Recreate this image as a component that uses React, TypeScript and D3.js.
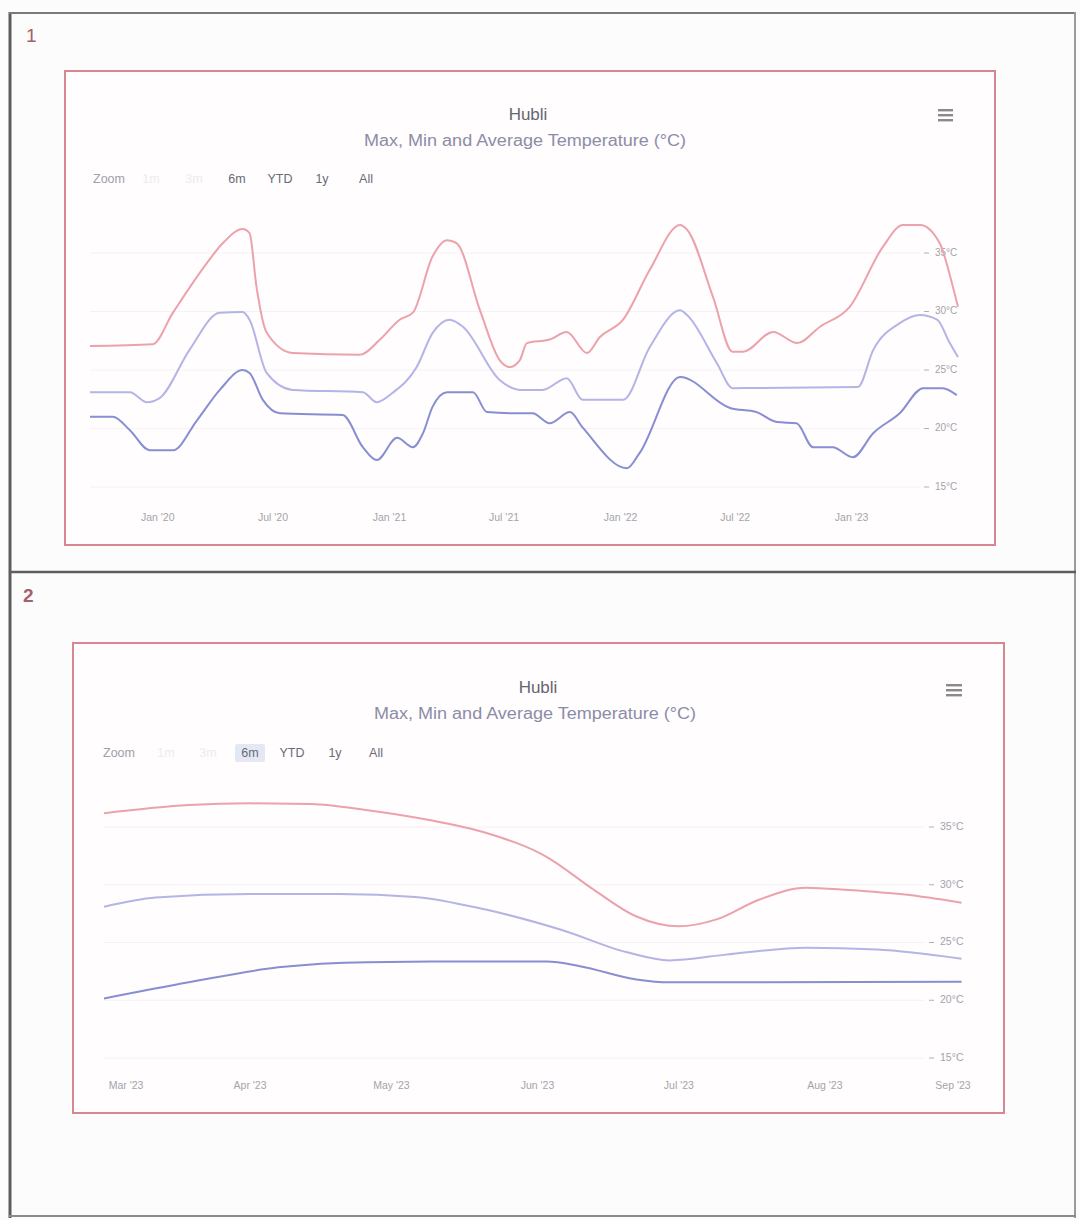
import React from "react";
import * as d3 from "d3";

type Pt = [string, number];

// ---------- Chart 1 ("All" range) ----------
const allMax: Pt[] = [
  ["2019-09-16", 27.05], ["2019-12-24", 27.2], ["2020-01-25", 29.9], ["2020-03-18", 34.1],
  ["2020-04-13", 35.85], ["2020-05-14", 37.05], ["2020-05-25", 36.7], ["2020-06-05", 32.1],
  ["2020-06-21", 28.2], ["2020-08-01", 26.45], ["2020-11-15", 26.3], ["2020-12-17", 27.6],
  ["2021-01-17", 29.3], ["2021-02-07", 29.9], ["2021-03-10", 34.7], ["2021-04-02", 36.1],
  ["2021-04-17", 35.85], ["2021-05-24", 30.1], ["2021-06-24", 25.85], ["2021-07-10", 25.25],
  ["2021-07-26", 25.85], ["2021-08-06", 27.3], ["2021-09-11", 27.6], ["2021-10-08", 28.25],
  ["2021-11-09", 26.45], ["2021-11-29", 27.8], ["2022-01-05", 29.3], ["2022-02-16", 33.55],
  ["2022-04-05", 37.4], ["2022-04-16", 37.0], ["2022-05-27", 31.25], ["2022-06-27", 26.55],
  ["2022-07-13", 26.55], ["2022-08-30", 28.25], ["2022-10-07", 27.3], ["2022-11-12", 28.7],
  ["2022-12-29", 30.4], ["2023-02-19", 35.5], ["2023-03-23", 37.4], ["2023-04-19", 37.4],
  ["2023-05-20", 35.85], ["2023-06-10", 32.1], ["2023-06-18", 30.4],
];

const allAvg: Pt[] = [
  ["2019-09-16", 23.1], ["2019-11-18", 23.1], ["2019-12-15", 22.25], ["2020-01-04", 22.6],
  ["2020-02-20", 26.7], ["2020-04-08", 29.9], ["2020-05-14", 29.95], ["2020-05-25", 29.3],
  ["2020-06-21", 24.75], ["2020-08-01", 23.3], ["2020-11-20", 23.1], ["2020-12-12", 22.25],
  ["2021-01-06", 23.05], ["2021-02-13", 25.25], ["2021-03-10", 28.15], ["2021-04-06", 29.3],
  ["2021-04-27", 28.7], ["2021-06-24", 24.15], ["2021-07-26", 23.3], ["2021-08-31", 23.3],
  ["2021-10-08", 24.3], ["2021-11-02", 22.45], ["2022-01-05", 22.45], ["2022-02-16", 26.95],
  ["2022-04-05", 30.1], ["2022-04-16", 29.7], ["2022-06-02", 25.6], ["2022-06-27", 23.45],
  ["2023-01-11", 23.55], ["2023-02-04", 26.7], ["2023-03-18", 29.0], ["2023-04-19", 29.7],
  ["2023-05-16", 29.3], ["2023-06-05", 27.3], ["2023-06-18", 26.1],
];

const allMin: Pt[] = [
  ["2019-09-16", 21.0], ["2019-10-22", 21.0], ["2019-11-18", 19.85], ["2019-12-19", 18.15],
  ["2020-01-25", 18.15], ["2020-03-03", 20.7], ["2020-04-08", 23.3], ["2020-05-14", 25.0],
  ["2020-05-25", 24.75], ["2020-06-15", 22.45], ["2020-07-12", 21.3], ["2020-10-19", 21.15],
  ["2020-11-20", 18.4], ["2020-12-12", 17.3], ["2021-01-13", 19.2], ["2021-02-07", 18.4],
  ["2021-02-23", 19.6], ["2021-03-10", 21.85], ["2021-04-02", 23.1], ["2021-05-13", 23.1],
  ["2021-06-04", 21.4], ["2021-07-26", 21.3], ["2021-08-15", 21.3], ["2021-09-11", 20.45],
  ["2021-10-13", 21.4], ["2021-11-02", 20.1], ["2022-01-11", 16.6], ["2022-01-31", 17.9],
  ["2022-04-05", 24.4], ["2022-06-23", 21.75], ["2022-08-04", 21.4], ["2022-09-05", 20.55],
  ["2022-10-06", 20.45], ["2022-11-01", 18.4], ["2022-12-02", 18.4], ["2023-01-03", 17.55],
  ["2023-02-04", 19.6], ["2023-03-18", 21.3], ["2023-04-24", 23.45], ["2023-05-25", 23.45],
  ["2023-06-16", 22.85],
];

const allTicks = ["2020-01-01", "2020-07-01", "2021-01-01", "2021-07-01", "2022-01-01", "2022-07-01", "2023-01-01"];
const allTickLabels = ["Jan '20", "Jul '20", "Jan '21", "Jul '21", "Jan '22", "Jul '22", "Jan '23"];

// ---------- Chart 2 ("6m" range) ----------
const sixMax: Pt[] = [
  ["2023-03-01", 36.2], ["2023-03-19", 36.9], ["2023-04-01", 37.05], ["2023-04-14", 37.0],
  ["2023-04-26", 36.45], ["2023-05-09", 35.6], ["2023-05-21", 34.5], ["2023-06-03", 32.4],
  ["2023-06-13", 29.55], ["2023-06-22", 27.25], ["2023-07-01", 26.4], ["2023-07-09", 27.0],
  ["2023-07-18", 28.7], ["2023-07-28", 29.75], ["2023-08-06", 29.55], ["2023-08-18", 29.15],
  ["2023-08-30", 28.45],
];

const sixAvg: Pt[] = [
  ["2023-03-01", 28.1], ["2023-03-12", 28.9], ["2023-04-01", 29.2], ["2023-04-20", 29.2],
  ["2023-05-06", 28.95], ["2023-05-21", 27.85], ["2023-06-06", 26.1], ["2023-06-20", 24.15],
  ["2023-06-29", 23.45], ["2023-07-11", 23.95], ["2023-07-28", 24.55], ["2023-08-12", 24.4],
  ["2023-08-30", 23.6],
];

const sixMin: Pt[] = [
  ["2023-03-01", 20.15], ["2023-03-19", 21.55], ["2023-04-07", 22.85], ["2023-04-26", 23.3],
  ["2023-05-15", 23.35], ["2023-06-03", 23.35], ["2023-06-10", 22.95], ["2023-06-22", 21.8],
  ["2023-06-29", 21.55], ["2023-08-30", 21.6],
];

const sixTicks = ["2023-03-01", "2023-04-01", "2023-05-01", "2023-06-01", "2023-07-01", "2023-08-01", "2023-09-01"];
const sixTickLabels = ["Mar '23", "Apr '23", "May '23", "Jun '23", "Jul '23", "Aug '23", "Sep '23"];

const yTicks = [35, 30, 25, 20, 15];
const rangeButtons = ["1m", "3m", "6m", "YTD", "1y", "All"];
const chartTitle = "Hubli";
const chartSubtitle = "Max, Min and Average Temperature (°C)";

const COLORS = { max: "#eca2aa", avg: "#b4b4e6", min: "#878ed2" };
const FONT = "'Liberation Sans', Arial, sans-serif";
const parse = d3.timeParse("%Y-%m-%d");

interface ChartProps {
  box: { x: number; y: number; w: number; h: number };
  xDomain: [string, string];
  xRange: [number, number];
  yRange: [number, number];
  ticks: string[];
  tickLabels: string[];
  xLabelY: number;
  xLabelSize: number;
  yTickX: number;
  yLabelSize: number;
  series: { data: Pt[]; color: string }[];
  titleX: number;
  titleY: number;
  subY: number;
  menu: { x: number; y: number; w: number };
  zoomX: number;
  zoomY: number;
  btnX: number[];
  selected: number;
  gridRight: number;
}

function Chart(p: ChartProps) {
  const x = d3.scaleTime().domain(p.xDomain.map((d) => parse(d)!) as [Date, Date]).range(p.xRange);
  const y = d3.scaleLinear().domain([15, 35]).range(p.yRange);
  const line = d3
    .line<Pt>()
    .x((d) => x(parse(d[0])!))
    .y((d) => y(d[1]))
    .curve(d3.curveMonotoneX);
  const [pl, pr] = p.xRange;
  return (
    <g>
      <rect x={p.box.x} y={p.box.y} width={p.box.w} height={p.box.h} fill="#fffdfd" stroke="#d8868f" strokeWidth={2} />
      {/* title */}
      <text x={p.titleX} y={p.titleY} textAnchor="middle" fontFamily={FONT} fontSize={17} fill="#66666e">
        {chartTitle}
      </text>
      <text
        x={p.titleX - 3}
        y={p.subY}
        textAnchor="middle"
        fontFamily={FONT}
        fontSize={16}
        textLength={322}
        lengthAdjust="spacingAndGlyphs"
        fill="#8c8ca8"
      >
        {chartSubtitle}
      </text>
      {/* menu */}
      {[0, 5, 10].map((o) => (
        <rect key={o} x={p.menu.x} y={p.menu.y + o} width={p.menu.w} height={2.4} fill="#8a8a8a" />
      ))}
      {/* range selector */}
      <text x={p.zoomX} y={p.zoomY} fontFamily={FONT} fontSize={12.5} fill="#a0a0a8">Zoom</text>
      {rangeButtons.map((b, i) => (
        <g key={b}>
          {i === p.selected && (
            <rect x={p.btnX[i] - 15} y={p.zoomY - 13} width={30} height={18} rx={2} fill="#e4e8f4" />
          )}
          <text
            x={p.btnX[i]}
            y={p.zoomY}
            textAnchor="middle"
            fontFamily={FONT}
            fontSize={12.5}
            fill={i < 2 ? "#ececf0" : "#6a6a78"}
          >
            {b}
          </text>
        </g>
      ))}
      {/* grid + y axis */}
      {yTicks.map((v) => (
        <g key={v}>
          <line x1={pl} x2={p.gridRight} y1={y(v)} y2={y(v)} stroke="#f4f2f4" strokeWidth={1} />
          <line x1={p.yTickX} x2={p.yTickX + 5} y1={y(v)} y2={y(v)} stroke="#b0b0b8" strokeWidth={1} />
          <text
            x={p.yTickX + 11}
            y={y(v)}
            dominantBaseline="middle"
            fontFamily={FONT}
            fontSize={p.yLabelSize}
            fill="#a4a4ac"
          >
            {`${v}°C`}
          </text>
        </g>
      ))}
      {/* series */}
      {p.series.map((s, i) => (
        <path key={i} d={line(s.data) || ""} fill="none" stroke={s.color} strokeWidth={2} strokeLinejoin="round" />
      ))}
      {/* x axis labels */}
      {p.ticks.map((t, i) => {
        const xv = x(parse(t)!);
        const cx = Math.max(pl + 22, Math.min(pr - 18, xv));
        return (
          <text
            key={t}
            x={cx}
            y={p.xLabelY}
            textAnchor="middle"
            fontFamily={FONT}
            fontSize={p.xLabelSize}
            fill="#a4a4ac"
          >
            {p.tickLabels[i]}
          </text>
        );
      })}
    </g>
  );
}

export default function App() {
  return (
    <div style={{ position: "absolute", left: 0, top: 0 }}>
      <svg width={1080} height={1220} style={{ display: "block", background: "#fdfcfc" }}>
        {/* page frame */}
        <rect x={0} y={0} width={1080} height={1220} fill="#fdfcfc" />
        <line x1={10} x2={10} y1={12} y2={1218} stroke="#5c5c5c" strokeWidth={3} />
        <line x1={9} x2={1076} y1={13} y2={13} stroke="#7a7a7a" strokeWidth={2} />
        <line x1={1075} x2={1075} y1={12} y2={1218} stroke="#9a9a9a" strokeWidth={2} />
        <line x1={9} x2={1076} y1={1216} y2={1216} stroke="#8a8a8a" strokeWidth={2} />
        <line x1={9} x2={1076} y1={572} y2={572} stroke="#5e5e5e" strokeWidth={2.5} />
        <text x={26} y={42} fontFamily={FONT} fontSize={19} fill="#a4606c">1</text>
        <text x={23} y={602} fontFamily={FONT} fontSize={19} fill="#a4606c" fontWeight="bold">2</text>

        <Chart
          box={{ x: 65, y: 71, w: 930, h: 474 }}
          xDomain={["2019-09-16", "2023-06-18"]}
          xRange={[90, 958]}
          yRange={[487, 253]}
          ticks={allTicks}
          tickLabels={allTickLabels}
          xLabelY={521}
          xLabelSize={10.5}
          yTickX={924}
          yLabelSize={10}
          series={[
            { data: allMax, color: COLORS.max },
            { data: allAvg, color: COLORS.avg },
            { data: allMin, color: COLORS.min },
          ]}
          titleX={528}
          titleY={120}
          subY={146}
          menu={{ x: 938, y: 109, w: 15 }}
          zoomX={93}
          zoomY={183}
          btnX={[151, 194, 237, 280, 322, 366]}
          selected={-1}
          gridRight={920}
        />

        <Chart
          box={{ x: 73, y: 643, w: 931, h: 470 }}
          xDomain={["2023-03-01", "2023-09-01"]}
          xRange={[104, 971]}
          yRange={[1058, 827]}
          ticks={sixTicks}
          tickLabels={sixTickLabels}
          xLabelY={1089}
          xLabelSize={10.5}
          yTickX={929}
          yLabelSize={10.5}
          series={[
            { data: sixMax, color: COLORS.max },
            { data: sixAvg, color: COLORS.avg },
            { data: sixMin, color: COLORS.min },
          ]}
          titleX={538}
          titleY={693}
          subY={719}
          menu={{ x: 946, y: 684, w: 16 }}
          zoomX={103}
          zoomY={757}
          btnX={[166, 208, 250, 292, 335, 376]}
          selected={2}
          gridRight={925}
        />
      </svg>
    </div>
  );
}
